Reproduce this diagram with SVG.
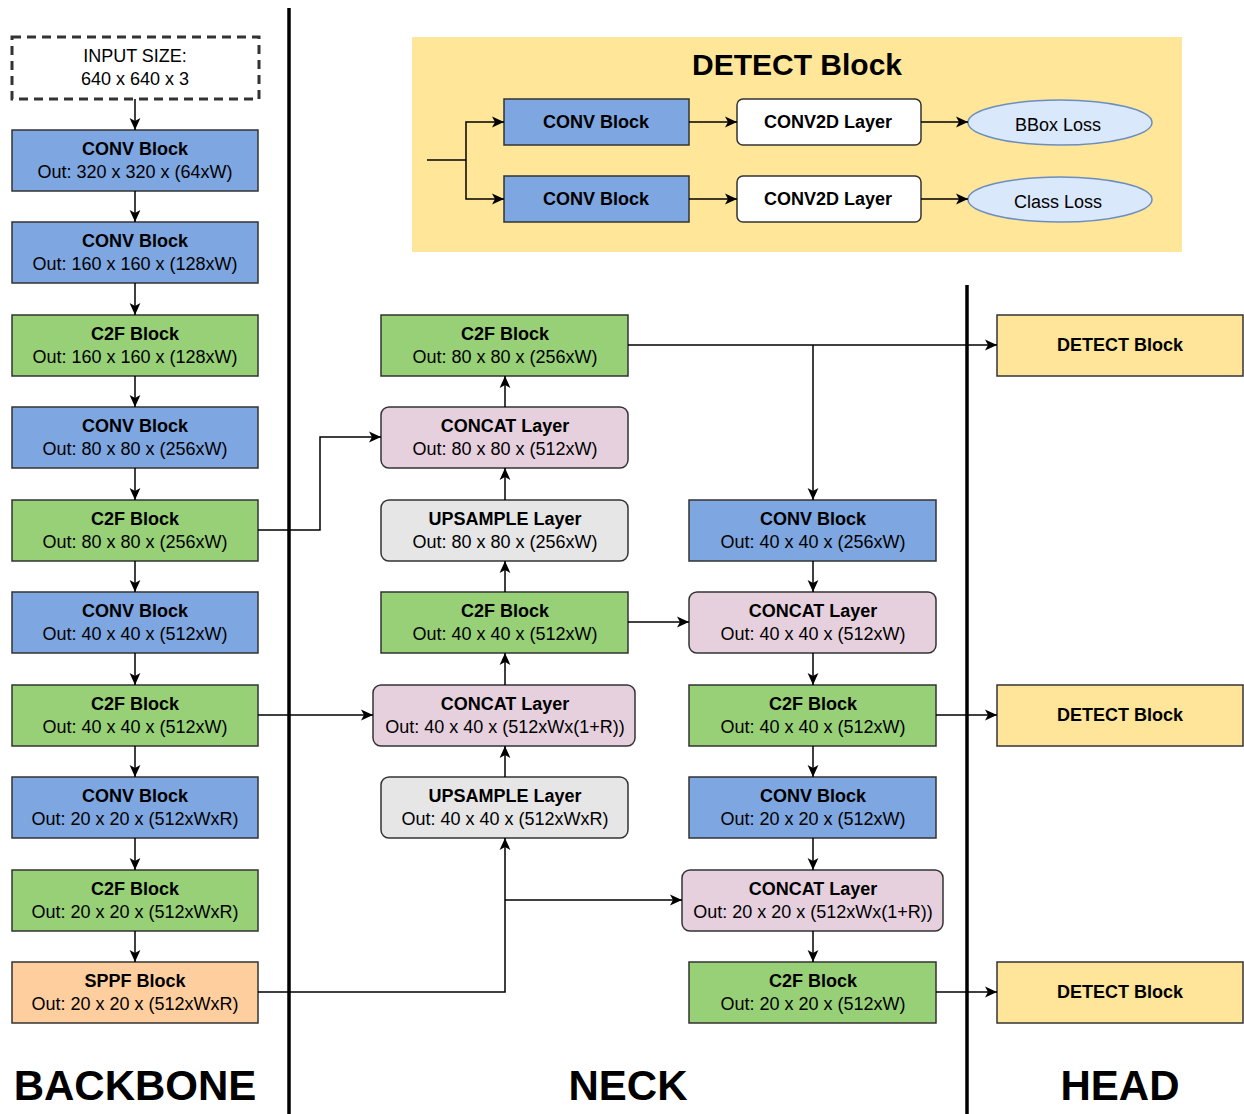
<svg xmlns="http://www.w3.org/2000/svg" width="1244" height="1114" viewBox="0 0 1244 1114">
<defs>
<style>
.t{font-family:"Liberation Sans",Arial,sans-serif;font-size:18px;fill:#000;text-anchor:middle}
.b{font-weight:bold}
.big{font-family:"Liberation Sans",Arial,sans-serif;font-size:42px;font-weight:bold;text-anchor:middle;fill:#000}
.box{stroke:#333;stroke-width:1.5}
.blue{fill:#7EA6E0}
.green{fill:#97D077}
.pink{fill:#E6D0DE}
.gray{fill:#E6E6E6}
.orange{fill:#FFCE9F}
.yellow{fill:#FFE599}
.c{fill:none;stroke:#000;stroke-width:1.5}
</style>
<marker id="ah" markerUnits="userSpaceOnUse" markerWidth="12" markerHeight="12" viewBox="0 0 10 10" refX="10" refY="5" orient="auto">
<path d="M0,0.5 L10,5 L0,9.5 L2.5,5 Z" fill="#000"/>
</marker>
</defs>
<rect width="1244" height="1114" fill="#fff"/>

<!-- dividers -->
<line x1="289" y1="8" x2="289" y2="1114" stroke="#000" stroke-width="3.5"/>
<line x1="967" y1="285" x2="967" y2="1114" stroke="#000" stroke-width="3.5"/>

<!-- DETECT detail -->
<g id="detect-detail">
<rect x="412" y="37" width="770" height="215" fill="#FFE699"/>
<text x="797" y="75" class="t b" style="font-size:30px">DETECT Block</text>
<rect x="504" y="99" width="185" height="46" class="box blue"/>
<text x="596" y="128" class="t b">CONV Block</text>
<rect x="504" y="176" width="185" height="46" class="box blue"/>
<text x="596" y="205" class="t b">CONV Block</text>
<rect x="737" y="99" width="184" height="46" rx="6" class="box" fill="#fff"/>
<text x="828" y="128" class="t b">CONV2D Layer</text>
<rect x="737" y="176" width="184" height="46" rx="6" class="box" fill="#fff"/>
<text x="828" y="205" class="t b">CONV2D Layer</text>
<ellipse cx="1060" cy="122.5" rx="92" ry="22.5" fill="#DAE8FC" stroke="#6C8EBF" stroke-width="1.5"/>
<text x="1058" y="131" class="t">BBox Loss</text>
<ellipse cx="1060" cy="199.5" rx="92" ry="22.5" fill="#DAE8FC" stroke="#6C8EBF" stroke-width="1.5"/>
<text x="1058" y="208" class="t">Class Loss</text>
<g id="detail-connectors">
<path class="c" d="M427,160 H466"/>
<path class="c" d="M466,160 V122 H504" marker-end="url(#ah)"/>
<path class="c" d="M466,160 V199 H504" marker-end="url(#ah)"/>
<path class="c" d="M689,122 H737" marker-end="url(#ah)"/>
<path class="c" d="M689,199 H737" marker-end="url(#ah)"/>
<path class="c" d="M921,122 H968" marker-end="url(#ah)"/>
<path class="c" d="M921,199 H968" marker-end="url(#ah)"/>
</g>
</g>

<!-- Backbone -->
<g id="input">
<rect x="12" y="37" width="247" height="62" fill="#fff" stroke="#333" stroke-width="3" stroke-dasharray="9,6"/>
<text x="135" y="62" class="t">INPUT SIZE:</text>
<text x="135" y="85" class="t">640 x 640 x 3</text>
</g>
<g id="bb1"><rect x="12" y="130" width="246" height="61" class="box blue"/><text x="135" y="155" class="t b">CONV Block</text><text x="135" y="178" class="t">Out: 320 x 320 x (64xW)</text></g>
<g id="bb2"><rect x="12" y="222" width="246" height="61" class="box blue"/><text x="135" y="247" class="t b">CONV Block</text><text x="135" y="270" class="t">Out: 160 x 160 x (128xW)</text></g>
<g id="bb3"><rect x="12" y="315" width="246" height="61" class="box green"/><text x="135" y="340" class="t b">C2F Block</text><text x="135" y="363" class="t">Out: 160 x 160 x (128xW)</text></g>
<g id="bb4"><rect x="12" y="407" width="246" height="61" class="box blue"/><text x="135" y="432" class="t b">CONV Block</text><text x="135" y="455" class="t">Out: 80 x 80 x (256xW)</text></g>
<g id="bb5"><rect x="12" y="500" width="246" height="61" class="box green"/><text x="135" y="525" class="t b">C2F Block</text><text x="135" y="548" class="t">Out: 80 x 80 x (256xW)</text></g>
<g id="bb6"><rect x="12" y="592" width="246" height="61" class="box blue"/><text x="135" y="617" class="t b">CONV Block</text><text x="135" y="640" class="t">Out: 40 x 40 x (512xW)</text></g>
<g id="bb7"><rect x="12" y="685" width="246" height="61" class="box green"/><text x="135" y="710" class="t b">C2F Block</text><text x="135" y="733" class="t">Out: 40 x 40 x (512xW)</text></g>
<g id="bb8"><rect x="12" y="777" width="246" height="61" class="box blue"/><text x="135" y="802" class="t b">CONV Block</text><text x="135" y="825" class="t">Out: 20 x 20 x (512xWxR)</text></g>
<g id="bb9"><rect x="12" y="870" width="246" height="61" class="box green"/><text x="135" y="895" class="t b">C2F Block</text><text x="135" y="918" class="t">Out: 20 x 20 x (512xWxR)</text></g>
<g id="bb10"><rect x="12" y="962" width="246" height="61" class="box orange"/><text x="135" y="987" class="t b">SPPF Block</text><text x="135" y="1010" class="t">Out: 20 x 20 x (512xWxR)</text></g>

<!-- Neck column 1 -->
<g id="n1"><rect x="381" y="315" width="247" height="61" class="box green"/><text x="505" y="340" class="t b">C2F Block</text><text x="505" y="363" class="t">Out: 80 x 80 x (256xW)</text></g>
<g id="n2"><rect x="381" y="407" width="247" height="61" rx="8" class="box pink"/><text x="505" y="432" class="t b">CONCAT Layer</text><text x="505" y="455" class="t">Out: 80 x 80 x (512xW)</text></g>
<g id="n3"><rect x="381" y="500" width="247" height="61" rx="8" class="box gray"/><text x="505" y="525" class="t b">UPSAMPLE Layer</text><text x="505" y="548" class="t">Out: 80 x 80 x (256xW)</text></g>
<g id="n4"><rect x="381" y="592" width="247" height="61" class="box green"/><text x="505" y="617" class="t b">C2F Block</text><text x="505" y="640" class="t">Out: 40 x 40 x (512xW)</text></g>
<g id="n5"><rect x="373" y="685" width="262" height="61" rx="8" class="box pink"/><text x="505" y="710" class="t b">CONCAT Layer</text><text x="505" y="733" class="t">Out: 40 x 40 x (512xWx(1+R))</text></g>
<g id="n6"><rect x="381" y="777" width="247" height="61" rx="8" class="box gray"/><text x="505" y="802" class="t b">UPSAMPLE Layer</text><text x="505" y="825" class="t">Out: 40 x 40 x (512xWxR)</text></g>

<!-- Neck column 2 -->
<g id="m1"><rect x="689" y="500" width="247" height="61" class="box blue"/><text x="813" y="525" class="t b">CONV Block</text><text x="813" y="548" class="t">Out: 40 x 40 x (256xW)</text></g>
<g id="m2"><rect x="689" y="592" width="247" height="61" rx="8" class="box pink"/><text x="813" y="617" class="t b">CONCAT Layer</text><text x="813" y="640" class="t">Out: 40 x 40 x (512xW)</text></g>
<g id="m3"><rect x="689" y="685" width="247" height="61" class="box green"/><text x="813" y="710" class="t b">C2F Block</text><text x="813" y="733" class="t">Out: 40 x 40 x (512xW)</text></g>
<g id="m4"><rect x="689" y="777" width="247" height="61" class="box blue"/><text x="813" y="802" class="t b">CONV Block</text><text x="813" y="825" class="t">Out: 20 x 20 x (512xW)</text></g>
<g id="m5"><rect x="682" y="870" width="261" height="61" rx="8" class="box pink"/><text x="813" y="895" class="t b">CONCAT Layer</text><text x="813" y="918" class="t">Out: 20 x 20 x (512xWx(1+R))</text></g>
<g id="m6"><rect x="689" y="962" width="247" height="61" class="box green"/><text x="813" y="987" class="t b">C2F Block</text><text x="813" y="1010" class="t">Out: 20 x 20 x (512xW)</text></g>

<!-- Head -->
<g id="h1"><rect x="997" y="315" width="246" height="61" class="box yellow"/><text x="1120" y="351" class="t b">DETECT Block</text></g>
<g id="h2"><rect x="997" y="685" width="246" height="61" class="box yellow"/><text x="1120" y="721" class="t b">DETECT Block</text></g>
<g id="h3"><rect x="997" y="962" width="246" height="61" class="box yellow"/><text x="1120" y="998" class="t b">DETECT Block</text></g>

<!-- connectors -->
<g id="connectors">
<path class="c" d="M135,99 V130" marker-end="url(#ah)"/>
<path class="c" d="M135,191 V222" marker-end="url(#ah)"/>
<path class="c" d="M135,283 V315" marker-end="url(#ah)"/>
<path class="c" d="M135,376 V407" marker-end="url(#ah)"/>
<path class="c" d="M135,468 V500" marker-end="url(#ah)"/>
<path class="c" d="M135,561 V592" marker-end="url(#ah)"/>
<path class="c" d="M135,653 V685" marker-end="url(#ah)"/>
<path class="c" d="M135,746 V777" marker-end="url(#ah)"/>
<path class="c" d="M135,838 V870" marker-end="url(#ah)"/>
<path class="c" d="M135,931 V962" marker-end="url(#ah)"/>
<path class="c" d="M258,530 H320 V437 H381" marker-end="url(#ah)"/>
<path class="c" d="M258,715 H373" marker-end="url(#ah)"/>
<path class="c" d="M258,992 H505 V838" marker-end="url(#ah)"/>
<path class="c" d="M505,900 H682" marker-end="url(#ah)"/>
<path class="c" d="M505,777 V746" marker-end="url(#ah)"/>
<path class="c" d="M505,685 V653" marker-end="url(#ah)"/>
<path class="c" d="M505,592 V561" marker-end="url(#ah)"/>
<path class="c" d="M505,500 V468" marker-end="url(#ah)"/>
<path class="c" d="M505,407 V376" marker-end="url(#ah)"/>
<path class="c" d="M628,345 H997" marker-end="url(#ah)"/>
<path class="c" d="M813,345 V500" marker-end="url(#ah)"/>
<path class="c" d="M628,622 H689" marker-end="url(#ah)"/>
<path class="c" d="M813,561 V592" marker-end="url(#ah)"/>
<path class="c" d="M813,653 V685" marker-end="url(#ah)"/>
<path class="c" d="M936,715 H997" marker-end="url(#ah)"/>
<path class="c" d="M813,746 V777" marker-end="url(#ah)"/>
<path class="c" d="M813,838 V870" marker-end="url(#ah)"/>
<path class="c" d="M813,931 V962" marker-end="url(#ah)"/>
<path class="c" d="M936,992 H997" marker-end="url(#ah)"/>
</g>

<!-- section labels -->
<text x="135" y="1100" class="big">BACKBONE</text>
<text x="628" y="1100" class="big">NECK</text>
<text x="1120" y="1100" class="big">HEAD</text>
</svg>
